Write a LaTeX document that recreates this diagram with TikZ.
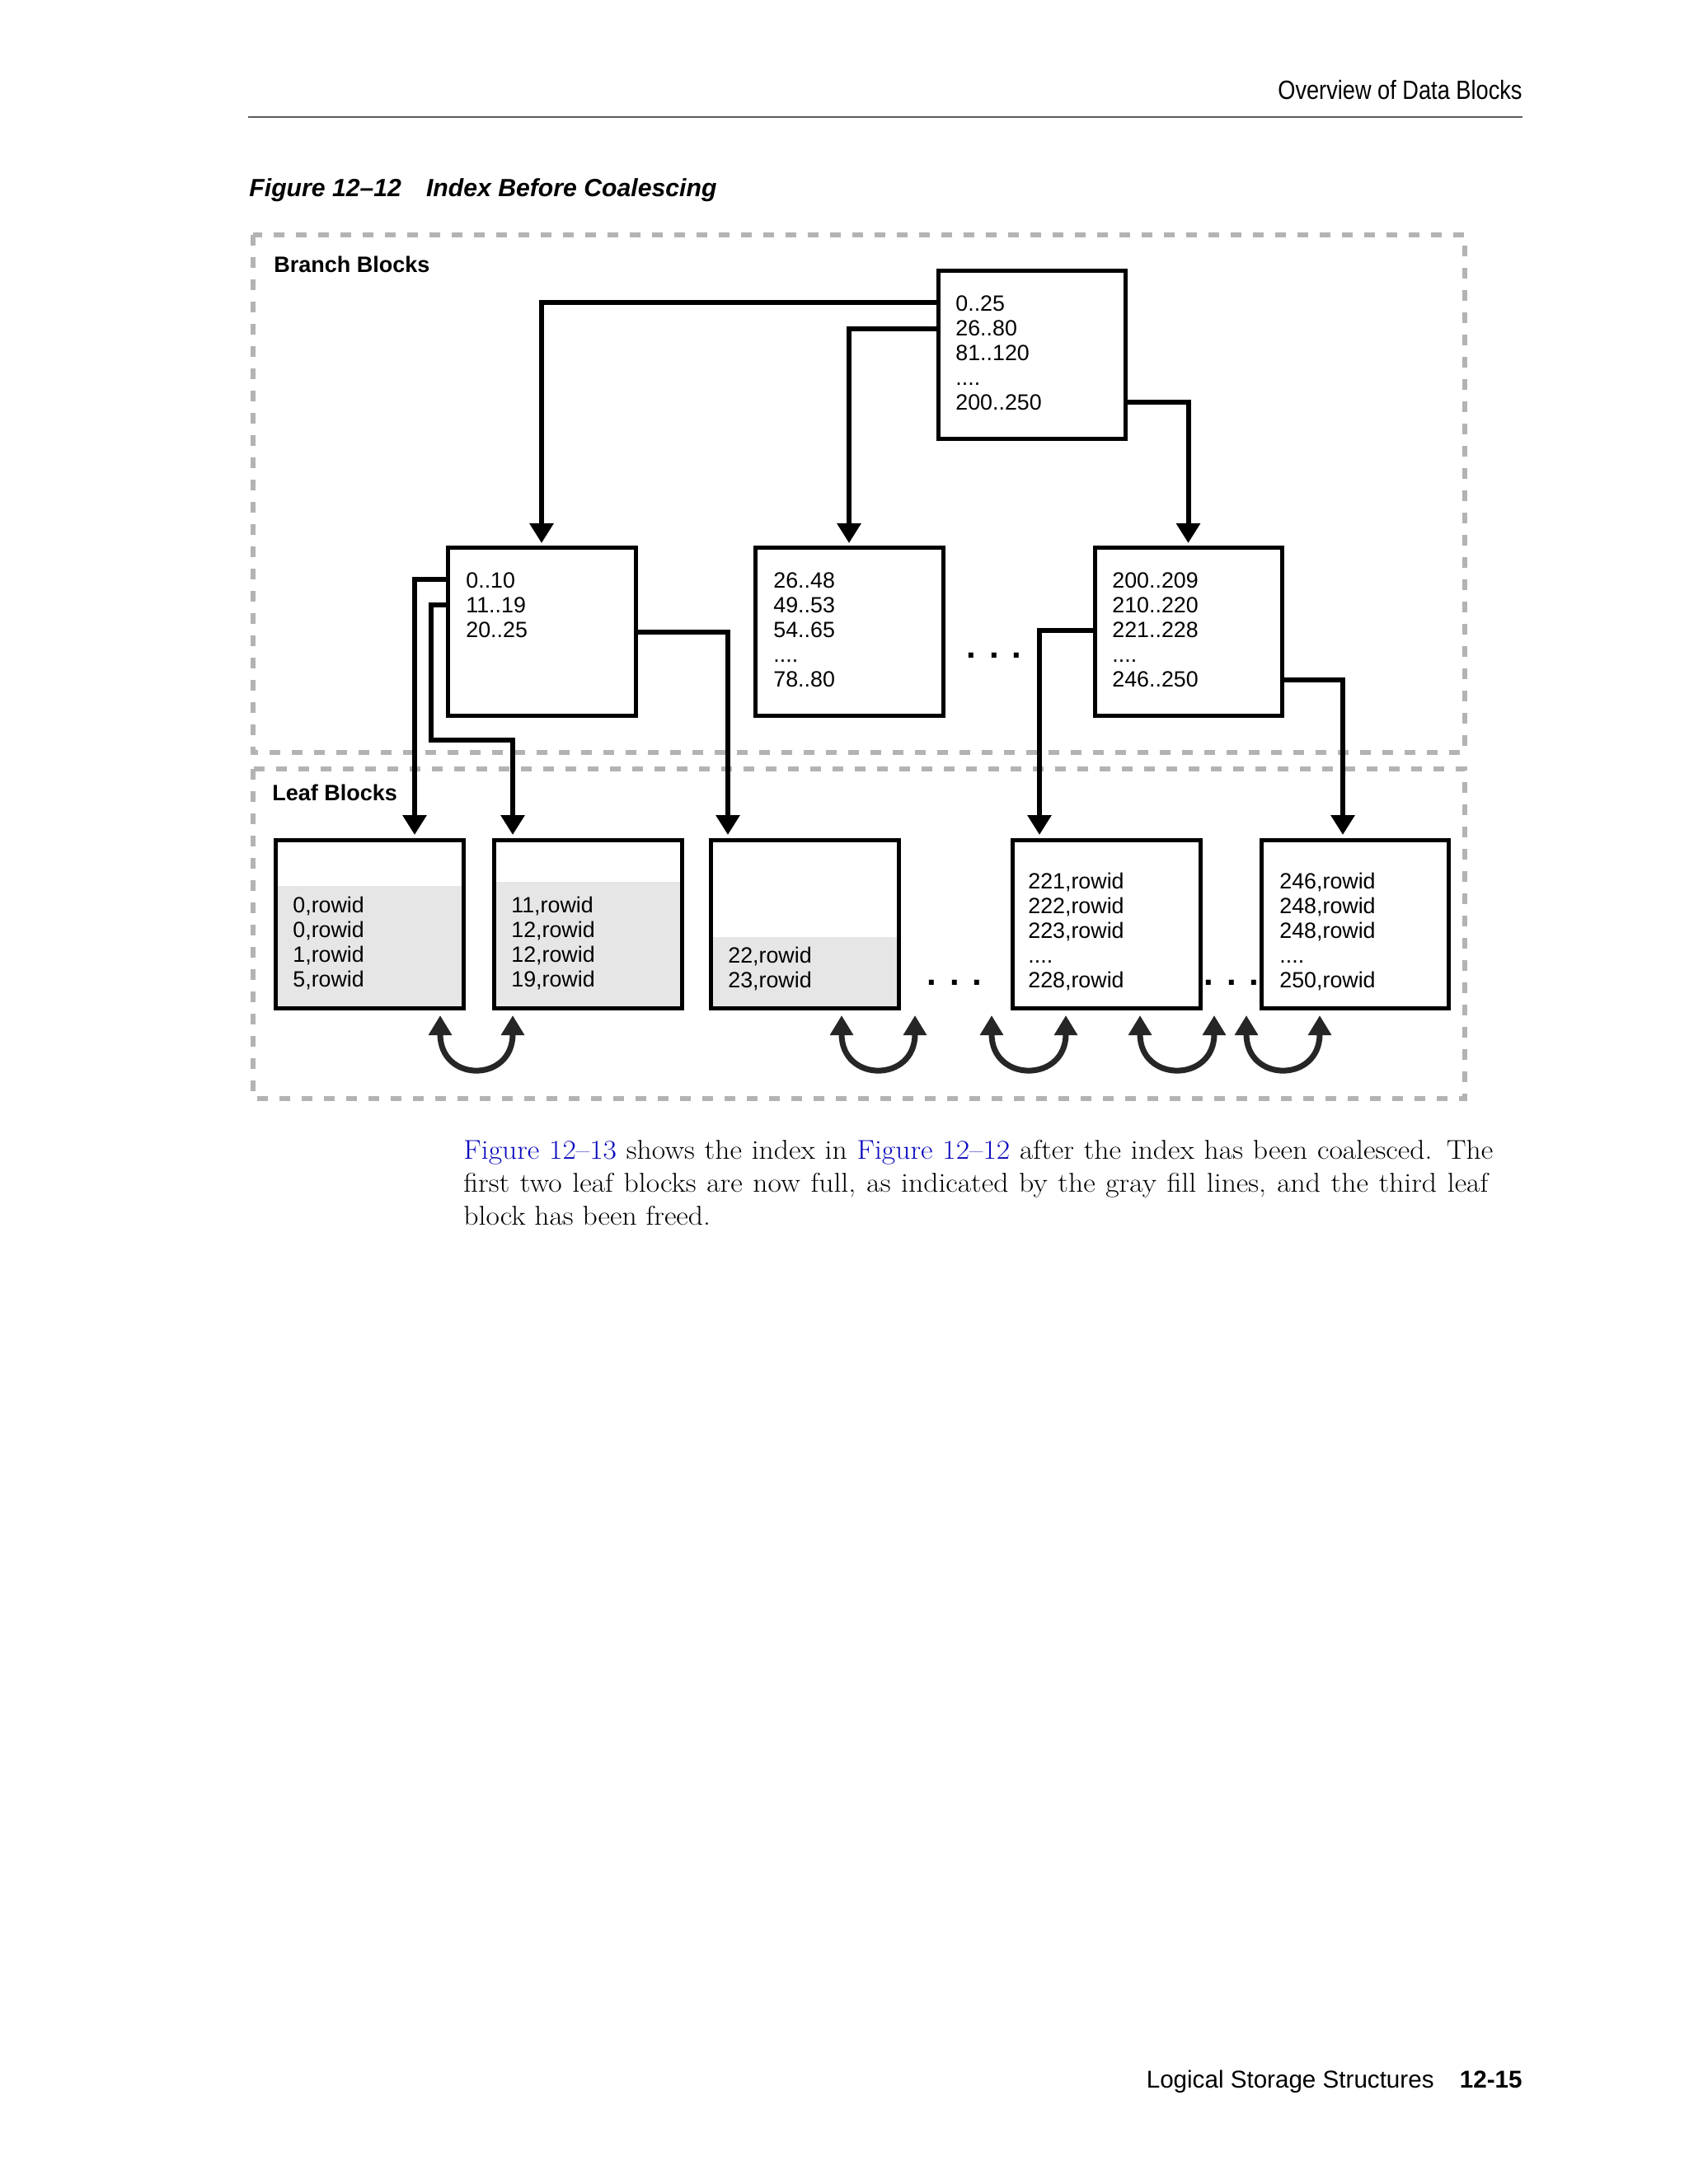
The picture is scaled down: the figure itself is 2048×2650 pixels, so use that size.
\documentclass[tikz,border=0pt]{standalone}
\usepackage{fontspec}
\usetikzlibrary{arrows.meta}
\newfontfamily\dsans{Liberation Sans}
\newfontfamily\nsans[FakeStretch=0.85]{Liberation Sans}
\newfontfamily\pserif[FakeStretch=1.08]{Latin Modern Roman}
\definecolor{dashgray}{RGB}{179,179,179}
\definecolor{fillgray}{RGB}{230,230,230}
\definecolor{curvecol}{RGB}{38,38,38}
\definecolor{linkblue}{RGB}{10,10,190}
\definecolor{rulegray}{RGB}{90,90,90}
\newcommand\tline[4]{\node[dtxt] (#1) at (#2,#3) {#4};}
\begin{document}
\begin{tikzpicture}[x=0.5bp,y=-0.5bp,
  blockbox/.style={draw, line width=2.5bp, inner sep=0pt, outer sep=0pt, minimum width=114bp, minimum height=101.5bp},
  leafbox/.style={blockbox, minimum height=102bp},
  dtxt/.style={font=\dsans\fontsize{13.4bp}{15bp}\selectfont, inner sep=0pt, anchor=base west},
  blocklabel/.style={font=\dsans\bfseries\fontsize{13.5bp}{15bp}\selectfont, inner sep=0pt, anchor=base west},
  conn/.style={line width=3bp, -{Triangle[length=12bp,width=14bp]}, shorten >=3bp},
  dashbox/.style={draw=dashgray, line width=3bp, dash pattern=on 6.5bp off 7bp},
  ellip/.style={font=\dsans\bfseries\fontsize{21bp}{21bp}\selectfont, inner sep=0pt},
  siblink/.style={draw=curvecol, line width=3.5bp, {Triangle[length=12bp,width=13.5bp]}-{Triangle[length=12bp,width=13.5bp]}},
  para/.style={font=\pserif\fontsize{16.5bp}{20bp}\selectfont, inner sep=0pt, anchor=base west}
]
\fill[white] (0,0) rectangle (2048,2650);
\useasboundingbox (0,0) rectangle (2048,2650);

% header
\node[font=\nsans\fontsize{16bp}{18bp}\selectfont, anchor=base east, inner sep=0pt] (hdr) at (1847,121) {Overview of Data Blocks};
\draw[rulegray, line width=1bp] (301,142) -- (1847,142);
\node[font=\dsans\bfseries\itshape\fontsize{15.1bp}{17bp}\selectfont, anchor=base west, inner sep=0pt] (cap) at (302,239) {Figure 12–12\hspace{15bp}Index Before Coalescing};

% dashed regions
\draw[dashbox] (307,285) rectangle (1777,913);
\draw[dashbox] (307,933) rectangle (1777,1333);
\node[blocklabel] (brl) at (332,331) {Branch Blocks};
\node[blocklabel] (lfl) at (330,971) {Leaf Blocks};

% gray fills
\fill[fillgray] (334,1075) rectangle (562,1223);
\fill[fillgray] (599,1070) rectangle (827,1223);
\fill[fillgray] (862,1137) rectangle (1090,1223);

% boxes
\node[blockbox, minimum width=113.5bp] (root) at (1251.5,430.5) {};
\node[blockbox] (B1) at (657,766.5) {};
\node[blockbox] (B2) at (1030,766.5) {};
\node[blockbox, minimum width=113.5bp] (B3) at (1441.5,766.5) {};
\node[leafbox] (L1) at (448,1121) {};
\node[leafbox] (L2) at (713,1121) {};
\node[leafbox] (L3) at (976,1121) {};
\node[leafbox] (L4) at (1342,1121) {};
\node[leafbox, minimum width=113.5bp] (L5) at (1643.5,1121) {};

% texts
\tline{r1}{1159}{378}{0..25}
\tline{r2}{1159}{408}{26..80}
\tline{r3}{1159}{438}{81..120}
\tline{r4}{1159}{468}{....}
\tline{r5}{1159}{498}{200..250}

\tline{a1}{565}{713}{0..10}
\tline{a2}{565}{743}{11..19}
\tline{a3}{565}{773}{20..25}

\tline{b1}{938}{713}{26..48}
\tline{b2}{938}{743}{49..53}
\tline{b3}{938}{773}{54..65}
\tline{b4}{938}{803}{....}
\tline{b5}{938}{833}{78..80}

\tline{c1}{1349}{713}{200..209}
\tline{c2}{1349}{743}{210..220}
\tline{c3}{1349}{773}{221..228}
\tline{c4}{1349}{803}{....}
\tline{c5}{1349}{833}{246..250}

\tline{d1}{355}{1107}{0,rowid}
\tline{d2}{355}{1137}{0,rowid}
\tline{d3}{355}{1167}{1,rowid}
\tline{d4}{355}{1197}{5,rowid}

\tline{e1}{620}{1107}{11,rowid}
\tline{e2}{620}{1137}{12,rowid}
\tline{e3}{620}{1167}{12,rowid}
\tline{e4}{620}{1197}{19,rowid}

\tline{f1}{883}{1168}{22,rowid}
\tline{f2}{883}{1198}{23,rowid}

\tline{g1}{1247}{1078}{221,rowid}
\tline{g2}{1247}{1108}{222,rowid}
\tline{g3}{1247}{1138}{223,rowid}
\tline{g4}{1247}{1168}{....}
\tline{g5}{1247}{1198}{228,rowid}

\tline{h1}{1552}{1078}{246,rowid}
\tline{h2}{1552}{1108}{248,rowid}
\tline{h3}{1552}{1138}{248,rowid}
\tline{h4}{1552}{1168}{....}
\tline{h5}{1552}{1198}{250,rowid}

% ellipses
\node[ellip] (dotsB) at (1206,795) {. . .};
\node[ellip] (dotsL1) at (1158,1192) {. . .};
\node[ellip] (dotsL2) at (1494,1192) {. . .};

% connector waypoints
\coordinate (y1) at (0,367);
\coordinate (y2) at (0,399);
\coordinate (y3) at (0,488);
\coordinate (k4) at (503,703);
\coordinate (k5) at (523,734);
\coordinate (k5b) at (622,898);
\coordinate (k6) at (883,767);
\coordinate (k7) at (1261,765);
\coordinate (k8) at (1629,825);

\draw[conn] (root.west |- y1) -| (B1.north);
\draw[conn] (root.west |- y2) -| (B2.north);
\draw[conn] (root.east |- y3) -| (B3.north);
\draw[conn] (B1.west |- k4) -| (k4 |- L1.north);
\draw[conn] (B1.west |- k5) -| (k5 |- k5b) -| (k5b |- L2.north);
\draw[conn] (B1.east |- k6) -| (k6 |- L3.north);
\draw[conn] (B3.west |- k7) -| (k7 |- L4.north);
\draw[conn] (B3.east |- k8) -| (k8 |- L5.north);

% sibling links
\coordinate (s1a) at (534,1232);  \coordinate (s1b) at (622,1232);
\coordinate (s2a) at (1021,1232); \coordinate (s2b) at (1110,1232);
\coordinate (s3a) at (1203,1232); \coordinate (s3b) at (1293,1232);
\coordinate (s4a) at (1383,1232); \coordinate (s4b) at (1473,1232);
\coordinate (s5a) at (1512,1232); \coordinate (s5b) at (1601,1232);
\draw[siblink] (s1a) .. controls +(0,82) and +(0,82) .. (s1b);
\draw[siblink] (s2a) .. controls +(0,82) and +(0,82) .. (s2b);
\draw[siblink] (s3a) .. controls +(0,82) and +(0,82) .. (s3b);
\draw[siblink] (s4a) .. controls +(0,82) and +(0,82) .. (s4b);
\draw[siblink] (s5a) .. controls +(0,82) and +(0,82) .. (s5b);

% paragraph
\node[para] (p1) at (562,1406) {\makebox[624.5bp][s]{\textcolor{linkblue}{Figure 12–13} shows the index in \textcolor{linkblue}{Figure 12–12} after the index has been coalesced. The}};
\node[para] (p2) at (562,1446) {\makebox[621.5bp][s]{first two leaf blocks are now full, as indicated by the gray fill lines, and the third leaf}};
\node[para] (p3) at (562,1486) {block has been freed.};

% footer
\node[font=\dsans\fontsize{14.8bp}{17bp}\selectfont, anchor=base east, inner sep=0pt] (ft1) at (1740,2533) {Logical Storage Structures};
\node[font=\dsans\bfseries\fontsize{14.8bp}{17bp}\selectfont, anchor=base east, inner sep=0pt] (ft2) at (1847,2533) {12-15};
\end{tikzpicture}
\end{document}
